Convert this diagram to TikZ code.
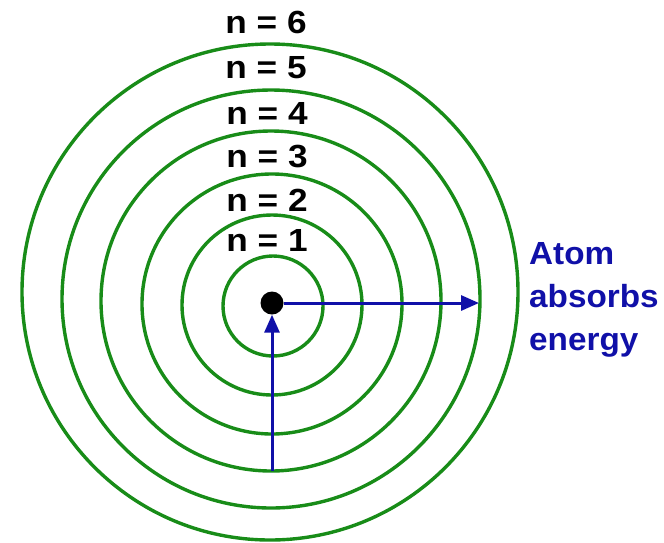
\documentclass[tikz,border=0pt]{standalone}
\usepackage{fontspec}
\setmainfont{Liberation Sans}
\usepackage{xcolor}
\usepackage{tikz}
\usetikzlibrary{arrows.meta,positioning}
\definecolor{orbitgreen}{RGB}{24,140,24}
\definecolor{arrowblue}{RGB}{16,16,168}

\begin{document}
\begin{tikzpicture}[x=1pt,y=-1pt, >={Triangle[length=18pt,width=15pt]},
  orbit/.style={draw=orbitgreen,line width=3.4pt},
  level/.style={font=\fontsize{32}{36}\selectfont\bfseries,inner sep=0pt,xscale=1.1},
  jump/.style={->,draw=arrowblue,line width=3pt}]
\useasboundingbox (0,0) rectangle (664,542);
% orbits
\draw[orbit] (273,306) circle (50);
\draw[orbit] (272,305) circle (90);
\draw[orbit] (272,304) circle (130);
\draw[orbit] (271,301) circle (170);
\draw[orbit] (271,299) circle (209);
\draw[orbit] (270,292) circle (248);
% nucleus
\node[circle,fill=black,minimum size=23pt,inner sep=0pt] (nucleus) at (272,303) {};
% orbit labels
\node[level] (n6) at (266,22) {n = 6};
\node[level] (n5) at (266,68) {n = 5};
\node[level] (n4) at (267,113) {n = 4};
\node[level] (n3) at (267,157) {n = 3};
\node[level] (n2) at (267,200) {n = 2};
\node[level] (n1) at (267,240) {n = 1};
% arrows
\coordinate (start) at (272,471);
\coordinate (outer) at (479,303);
\draw[jump] (start) -- (nucleus.south);
\draw[jump] (nucleus.east) -- (outer);
\node[anchor=west,align=left,text=arrowblue,inner sep=0pt,xscale=1.04,
  font=\fontsize{32}{43}\selectfont\bfseries] (absorb) at (529,300)
  {Atom\\absorbs\\energy};
\end{tikzpicture}
\end{document}
